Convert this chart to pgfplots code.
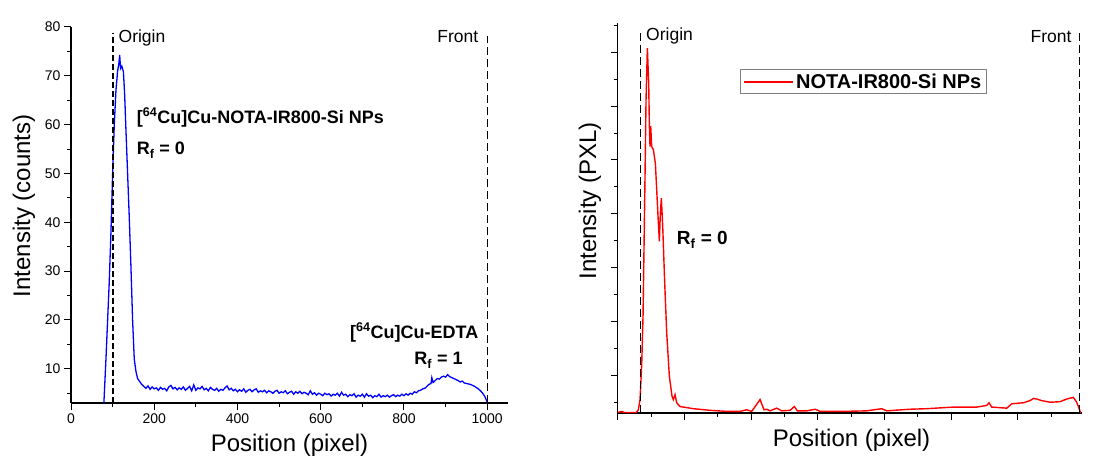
\documentclass[border=0pt]{standalone}
\usepackage{fontspec}
\setmainfont{Liberation Sans}
\usepackage{pgfplots}
\pgfplotsset{compat=1.18}
\definecolor{trace}{RGB}{0,0,255}
\definecolor{trace2}{RGB}{255,0,0}

\pgfplotsset{
  tlc/.style={
    scale only axis,
    axis lines*=left,
    axis line style={line width=1.4pt,-},
    tick align=outside,
    major tick length=7pt, minor tick length=4pt,
    every tick/.style={line width=1pt, black},
    tick label style={font=\fontsize{14}{14}\selectfont},
    /pgf/number format/assume math mode=true,
    /pgf/number format/set thousands separator={},
    label style={font=\fontsize{24}{24}\selectfont},
    clip mode=individual,
  },
}

\begin{document}
\begin{tikzpicture}
\path[use as bounding box] (0,0) rectangle (1101pt,-457pt);

% ---- left: 64Cu TLC scan ----
\begin{axis}[tlc,
  at={(71pt,-403pt)}, anchor=south west,
  width=437pt, height=376pt,
  xmin=0, xmax=1050, ymin=3, ymax=80,
  xtick={0,200,...,1000}, minor xtick={100,300,...,900},
  ytick={10,20,...,80}, minor ytick={5,15,...,75},
  xlabel={Position (pixel)}, ylabel={Intensity (counts)},
  xlabel style={at={(axis description cs:0.5,0)}, anchor=north, yshift=-31pt, inner sep=0pt},
  ylabel style={at={(axis description cs:-0.108,0.524)}, anchor=center},
]
\addplot[color=trace, line width=1.3pt] coordinates {
(79,3.0) (84,12) (88,20) (92,28) (96,38) (100,50) (104,60) (108,67)
(112,71) (115,72.5) (117,74.3) (119,71.5) (122,72) (126,70.8) (129,66)
(132,59) (136,50) (140,41) (144,31) (148,20) (152,12) (156,9.5)
(160,8.0) (165,7.4) (170,6.8)
(175,6.4) (180,6.0) (185,6.5) (190,5.8) (195,6.3) (200,5.9) (205,6.1)
(210,5.6) (215,6.2) (220,5.8) (225,6.0) (230,5.5) (235,6.3) (240,6.6)
(245,5.9) (250,6.2) (255,5.7) (260,6.1) (265,5.8) (270,6.3) (275,5.6)
(280,6.0) (285,6.4) (290,5.5) (295,6.7) (300,5.6) (305,6.1) (310,5.9)
(315,6.4) (320,5.7) (325,6.0) (330,5.5) (335,6.2) (340,5.8) (345,5.6)
(350,6.0) (355,5.4) (360,5.8) (365,5.6) (370,6.1) (375,6.5) (380,5.7)
(385,6.0) (390,5.5) (395,5.8) (400,5.3) (405,5.7) (410,5.4) (415,5.9)
(420,5.2) (425,5.6) (430,5.8) (435,5.3) (440,5.7) (445,5.9) (450,5.2)
(455,5.5) (460,5.3) (465,5.6) (470,5.1) (475,5.5) (480,5.3) (485,5.0)
(490,5.4) (495,5.6) (500,5.0) (505,5.3) (510,5.1) (515,5.5) (520,4.9)
(525,5.2) (530,5.4) (535,4.8) (540,5.3) (545,5.0) (550,5.4) (555,4.9)
(560,5.2) (565,5.0) (570,4.7) (575,5.5) (580,4.8) (585,5.1) (590,4.6)
(595,5.0) (600,4.8) (605,4.5) (610,5.0) (615,4.7) (620,4.9) (625,4.4)
(630,4.8) (635,4.6) (640,5.0) (645,4.4) (650,5.2) (655,4.6) (660,4.8)
(665,4.3) (670,4.7) (675,4.5) (680,4.9) (685,4.2) (690,4.6) (695,4.4)
(700,4.8) (705,4.2) (710,4.9) (715,4.4) (720,4.6) (725,4.1) (730,4.5)
(735,4.3) (740,4.8) (745,4.2) (750,4.5) (755,4.3) (760,4.6) (765,4.2)
(770,4.5) (775,4.7) (780,4.3) (785,4.6) (790,4.4) (795,4.8) (800,4.5)
(805,4.9) (810,4.6) (815,5.0) (820,4.8) (825,5.3) (830,5.1) (835,5.5)
(840,5.6) (845,5.9) (850,6.0) (855,6.4) (860,6.8) (865,7.0) (867,8.2)
(870,7.2) (875,7.6) (880,8.0) (885,7.9) (890,8.3) (895,8.5) (900,8.3)
(905,8.8) (910,8.4) (915,8.2) (920,8.0) (925,7.8) (930,7.6) (935,7.3)
(940,7.5) (945,7.1) (950,7.0) (955,6.9) (960,6.8) (965,6.6) (970,6.4)
(975,6.1) (980,5.8) (985,5.4) (990,4.9) (995,4.2) (1000,3.2)
};
\draw[line width=2pt, dash pattern=on 6pt off 3pt] (axis cs:100,3) -- (axis cs:100,78.7);
\draw[line width=1pt, dash pattern=on 8pt off 4pt] (axis cs:1000,3) -- (axis cs:1000,78.1);
\node[anchor=base west, inner sep=0pt, font=\fontsize{17.5}{17.5}\selectfont] at (axis cs:114,76.9) {Origin};
\node[anchor=base east, inner sep=0pt, font=\fontsize{17.5}{17.5}\selectfont] at (axis cs:979,76.9) {Front};
\node[anchor=base west, inner sep=0pt, font=\fontsize{18}{18}\selectfont\bfseries] at (axis cs:157.6,60.3) {[\textsuperscript{64}Cu]Cu-NOTA-IR800-Si NPs};
\node[anchor=base west, inner sep=0pt, font=\fontsize{18}{18}\selectfont\bfseries] at (axis cs:157.6,53.8) {R\textsubscript{f} = 0};
\node[anchor=base east, inner sep=0pt, font=\fontsize{18}{18}\selectfont\bfseries] at (axis cs:979,16.3) {[\textsuperscript{64}Cu]Cu-EDTA};
\node[anchor=base east, inner sep=0pt, font=\fontsize{18}{18}\selectfont\bfseries] at (axis cs:941.6,10.8) {R\textsubscript{f} = 1};
\end{axis}

% ---- right: NOTA-IR800-Si NPs scan ----
\begin{axis}[tlc,
  at={(617.7pt,-413pt)}, anchor=south west,
  width=464pt, height=390pt,
  xmin=0, xmax=696, ymin=0.3, ymax=7.545,
  xtick={0,100,...,600}, minor xtick={50,150,...,650}, xticklabels={},
  ytick={1,...,7}, minor ytick={0.5,1.5,...,7.5}, yticklabels={},
  xlabel={Position (pixel)}, ylabel={Intensity (PXL)},
  xlabel style={at={(axis description cs:0.504,0)}, anchor=north, yshift=-16pt, inner sep=0pt},
  ylabel style={at={(axis description cs:-0.06,0.544)}, anchor=center},
  legend style={at={(0.264,0.881)}, anchor=north west, draw=gray, line width=1pt,
    font=\fontsize{20}{20}\selectfont\bfseries, inner xsep=3pt, inner ysep=2pt},
  legend image code/.code={\draw[#1] (0pt,0pt) -- (49pt,0pt);},
]
\addplot[color=trace2, line width=1.4pt] coordinates {
(0,0.31) (6,0.33) (10,0.31) (28,0.31) (31,0.36) (33.5,0.55) (36,1.2)
(38,2.1) (40.5,4.26) (42.5,6.12) (44.5,7.08) (46.5,6.43) (47.5,5.63)
(48.5,5.25) (49.5,5.63) (51,5.25) (53.5,5.19) (56.5,4.94) (58.5,4.45)
(60.5,3.95) (62.5,3.49) (64,4.02) (65.5,4.29) (67.5,3.77) (70.5,2.72)
(73.5,1.79) (77.5,0.98) (81.5,0.61) (83.5,0.55) (86,0.64) (88.5,0.49)
(93.5,0.42) (113.5,0.38) (138.5,0.35) (163.5,0.33) (183.5,0.33)
(193.5,0.36) (201,0.33) (208.5,0.46) (213.5,0.55) (219.5,0.36)
(223.5,0.37) (228.5,0.34) (238.5,0.39) (246,0.34) (258.5,0.35)
(265,0.42) (269.5,0.34) (283.5,0.34) (296.5,0.37) (303.5,0.33)
(338.5,0.33) (373.5,0.34) (396,0.38) (403.5,0.34) (438.5,0.37)
(463.5,0.38) (503.5,0.41) (538.5,0.41) (553.5,0.44) (557,0.49)
(561,0.41) (583.5,0.39) (591,0.47) (598.5,0.48) (608.5,0.49)
(618.5,0.53) (623.5,0.57) (628.5,0.56) (636,0.53) (648.5,0.50)
(663.5,0.51) (673.5,0.56) (683.5,0.59) (688.5,0.50) (694.5,0.30)
};
\addlegendentry{NOTA-IR800-Si NPs}
\draw[line width=1pt, dash pattern=on 8pt off 4pt] (axis cs:34,0.3) -- (axis cs:34,7.39);
\draw[line width=1pt, dash pattern=on 8pt off 4pt] (axis cs:692,0.3) -- (axis cs:692,7.39);
\node[anchor=base west, inner sep=0pt, font=\fontsize{17.5}{17.5}\selectfont] at (axis cs:42.5,7.22) {Origin};
\node[anchor=base east, inner sep=0pt, font=\fontsize{17.5}{17.5}\selectfont] at (axis cs:681,7.18) {Front};
\node[anchor=base west, inner sep=0pt, font=\fontsize{19}{19}\selectfont\bfseries] at (axis cs:88.5,3.43) {R\textsubscript{f} = 0};
\end{axis}
\end{tikzpicture}
\end{document}
